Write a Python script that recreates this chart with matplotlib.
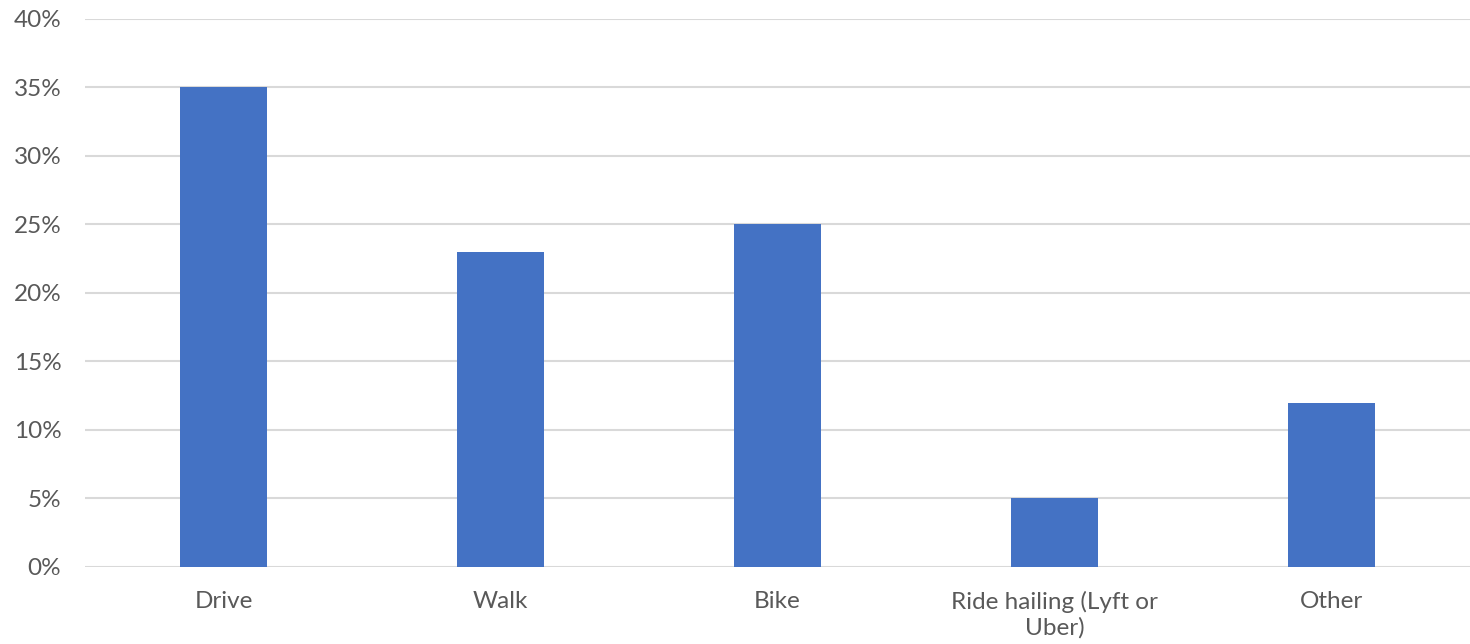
import matplotlib
matplotlib.use("Agg")
import matplotlib.pyplot as plt
from matplotlib.ticker import PercentFormatter

# data
modes = ["Drive", "Walk", "Bike", "Ride hailing (Lyft or\nUber)", "Other"]
shares = [35, 23, 25, 5, 12]
y_ticks = [0, 5, 10, 15, 20, 25, 30, 35, 40]

plt.rcParams['font.family'] = ['Lato', 'DejaVu Sans']

fig = plt.figure(figsize=(14.7, 6.44), dpi=100)
ax = fig.add_axes([0.0578, 0.1196, 0.9422, 0.8509])

x = range(len(modes))
ax.bar(x, shares, width=0.315, color="#4472C4", zorder=3)

ax.set_xlim(-0.5, len(modes) - 0.5)
ax.set_ylim(0, 40)
ax.set_yticks(y_ticks)
ax.yaxis.set_major_formatter(PercentFormatter(decimals=0))
ax.set_xticks(list(x))
ax.set_xticklabels(modes, linespacing=1.25)

ax.grid(axis="y", color="#d9d9d9", linewidth=1.5, zorder=0)
for s in ax.spines.values():
    s.set_visible(False)
ax.tick_params(axis="both", length=0, labelsize=17.5, colors="#595959")
ax.tick_params(axis="x", pad=17)
ax.tick_params(axis="y", pad=17)

fig.savefig("out.png", dpi=100)
